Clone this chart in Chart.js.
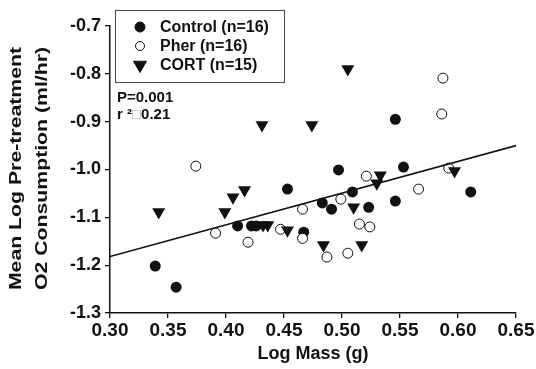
<!DOCTYPE html>
<html>
<head>
<meta charset="utf-8">
<script src="https://cdn.jsdelivr.net/npm/chart.js@4.4.1/dist/chart.umd.min.js"></script>
<style>
  html, body { margin: 0; padding: 0; background: #fff; }
  #wrap { width: 536px; height: 369px; }
</style>
</head>
<body>
<div id="wrap"><canvas id="grafico" width="536" height="369"></canvas></div>
<script>
// datos
const controlX = [0.339, 0.357, 0.410, 0.422, 0.426, 0.453, 0.546, 0.497, 0.553, 0.509, 0.483, 0.491, 0.523, 0.546, 0.611, 0.467];
const controlY = [-1.202, -1.246, -1.118, -1.118, -1.118, -1.041, -0.895, -1.001, -0.995, -1.047, -1.070, -1.083, -1.079, -1.066, -1.047, -1.131];

const pherX = [0.374, 0.391, 0.419, 0.447, 0.466, 0.466, 0.487, 0.505, 0.515, 0.524, 0.499, 0.521, 0.566, 0.592, 0.587, 0.586];
const pherY = [-0.993, -1.133, -1.152, -1.125, -1.144, -1.083, -1.183, -1.175, -1.114, -1.120, -1.062, -1.014, -1.041, -0.997, -0.809, -0.884];

const cortX = [0.342, 0.399, 0.406, 0.416, 0.431, 0.505, 0.474, 0.533, 0.530, 0.597, 0.510, 0.484, 0.517, 0.453, 0.432, 0.436];
const cortY = [-1.089, -1.089, -1.058, -1.043, -0.907, -0.790, -0.907, -1.012, -1.029, -1.003, -1.079, -1.158, -1.158, -1.127, -1.116, -1.116];

// recta de regresion
const lineaX = [0.30, 0.65];
const lineaY = [-1.182, -0.950];

const xTicks = ['0.30', '0.35', '0.40', '0.45', '0.50', '0.55', '0.60', '0.65'];
const yTicks = ['-1.3', '-1.2', '-1.1', '-1.0', '-0.9', '-0.8', '-0.7'];

const series = ['Control (n=16)', 'Pher (n=16)', 'CORT (n=15)'];
const tituloX = 'Log Mass (g)';
const tituloY = ['Mean Log Pre-treatment', 'O2 Consumption (ml/hr)'];
const textoP = 'P=0.001';
const textoR = ['r ', '\u00b2', '\u25a1', '0.21'];

const fuente = "'Liberation Sans', Arial, sans-serif";
const negro = '#111';

const puntos = (xs, ys) => xs.map((x, i) => ({ x: x, y: ys[i] }));

// Leyenda, anotacion y titulos dibujados a mano
const extras = {
    id: 'extras',
    afterDraw(chart) {
        const ctx = chart.ctx;
        const area = chart.chartArea;
        ctx.save();
        ctx.fillStyle = negro;

        // leyenda
        ctx.strokeStyle = '#444';
        ctx.lineWidth = 1;
        ctx.strokeRect(115.5, 10.5, 169, 72);
        const estilos = [
            { pointStyle: 'circle', radius: 5, fill: negro, rot: 0 },
            { pointStyle: 'circle', radius: 4.5, fill: '#fff', rot: 0 },
            { pointStyle: 'triangle', radius: 7.5, fill: negro, rot: 180 }
        ];
        ctx.font = 'bold 16px ' + fuente;
        ctx.textBaseline = 'middle';
        series.forEach((nombre, i) => {
            const yy = 27 + i * 19;
            const e = estilos[i];
            ctx.fillStyle = e.fill;
            ctx.strokeStyle = negro;
            ctx.lineWidth = 1;
            Chart.helpers.drawPoint(ctx, { pointStyle: e.pointStyle, radius: e.radius, rotation: e.rot, borderWidth: 1 }, 140, yy);
            ctx.fillStyle = negro;
            ctx.fillText(nombre, 160, yy + 1);
        });

        // anotacion P y r2
        ctx.textBaseline = 'alphabetic';
        ctx.font = 'bold 15px ' + fuente;
        ctx.fillText(textoP, 117, 102);
        let xx = 117;
        textoR.forEach((t, i) => {
            ctx.fillStyle = i === 2 ? '#aaa' : negro;
            ctx.font = (i === 2 ? '15px ' : 'bold 15px ') + fuente;
            ctx.fillText(t, xx, 119);
            xx += ctx.measureText(t).width;
        });

        // titulo eje x
        ctx.fillStyle = negro;
        ctx.font = 'bold 18px ' + fuente;
        ctx.textAlign = 'center';
        ctx.fillText(tituloX, (area.left + area.right) / 2, 359);

        // titulo eje y (letra algo ensanchada como en la figura)
        ctx.font = 'bold 17px ' + fuente;
        const cy = (area.top + area.bottom) / 2 - 1;
        [21, 47].forEach((bx, i) => {
            ctx.save();
            ctx.translate(bx, cy);
            ctx.rotate(-Math.PI / 2);
            ctx.scale(1.25, 1);
            ctx.fillText(tituloY[i], 0, 0);
            ctx.restore();
        });
        ctx.restore();
    }
};

const ctx = document.getElementById('grafico').getContext('2d');
const grafico = new Chart(ctx, {
    type: 'scatter',
    data: {
        datasets: [
            {
                type: 'line',
                data: puntos(lineaX, lineaY),
                borderColor: negro,
                borderWidth: 1.6,
                pointRadius: 0,
                fill: false,
                order: 0
            },
            {
                label: series[0],
                data: puntos(controlX, controlY),
                pointStyle: 'circle',
                pointRadius: 5.5,
                backgroundColor: negro,
                borderColor: negro,
                borderWidth: 0,
                order: 3
            },
            {
                label: series[1],
                data: puntos(pherX, pherY),
                pointStyle: 'circle',
                pointRadius: 5,
                backgroundColor: '#fff',
                borderColor: negro,
                borderWidth: 1,
                order: 2
            },
            {
                label: series[2],
                data: puntos(cortX, cortY),
                pointStyle: 'triangle',
                pointRotation: 180,
                pointRadius: 7.5,
                backgroundColor: negro,
                borderColor: negro,
                borderWidth: 0,
                order: 1
            }
        ]
    },
    options: {
        responsive: false,
        animation: false,
        layout: { padding: { left: 0, right: 20, top: 26, bottom: 0 } },
        plugins: {
            legend: { display: false },
            tooltip: { enabled: false }
        },
        scales: {
            x: {
                type: 'linear',
                min: 0.30,
                max: 0.65,
                afterFit: s => { s.height = 56; },
                ticks: {
                    stepSize: 0.05,
                    color: negro,
                    padding: 1,
                    font: { family: fuente, size: 19, weight: 'bold' },
                    callback: (v, i) => xTicks[i]
                },
                grid: { drawOnChartArea: false, drawTicks: true, tickLength: 5, color: negro, lineWidth: 1.3 },
                border: { display: true, color: negro, width: 1.5 }
            },
            y: {
                type: 'linear',
                min: -1.3,
                max: -0.7,
                afterFit: s => { s.width = 110; },
                ticks: {
                    stepSize: 0.1,
                    color: negro,
                    padding: 4,
                    font: { family: fuente, size: 18, weight: 'bold' },
                    callback: (v, i) => yTicks[i]
                },
                grid: { drawOnChartArea: false, drawTicks: true, tickLength: 5, color: negro, lineWidth: 1.3 },
                border: { display: true, color: negro, width: 1.5 }
            }
        }
    },
    plugins: [extras]
});
</script>
</body>
</html>
